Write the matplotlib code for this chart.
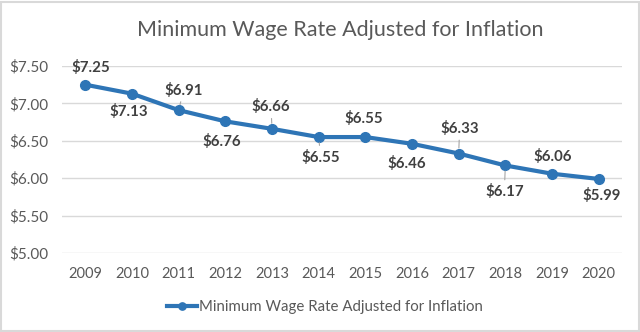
import matplotlib
matplotlib.use("Agg")
import matplotlib.pyplot as plt
from matplotlib.patches import Rectangle

years = ["2009", "2010", "2011", "2012", "2013", "2014", "2015", "2016", "2017", "2018", "2019", "2020"]
wages = [7.25, 7.13, 6.91, 6.76, 6.66, 6.55, 6.55, 6.46, 6.33, 6.17, 6.06, 5.99]
yticks = [5.00, 5.50, 6.00, 6.50, 7.00, 7.50]
series_name = "Minimum Wage Rate Adjusted for Inflation"
title = "Minimum Wage Rate Adjusted for Inflation"

# label offsets in pixels (dx, dy) and whether a leader line is drawn
label_offsets = [(5, 17), (-3, -18), (5, 20), (-4, -20), (-1, 22), (2, -20),
                 (-2, 19), (-5, -20), (1, 25), (-1, -26), (1, 17), (3, -17)]
leaders = [False, False, True, False, True, True, False, False, True, True, False, False]

plt.rcParams['font.family'] = ['Lato', 'DejaVu Sans']
line_color = "#2E75B6"
text_gray = "#595959"

fig = plt.figure(figsize=(6.4, 3.32), dpi=100)
ax = fig.add_axes([62/640, 1-253/332, (622-62)/640, (253-66)/332])

x = list(range(len(years)))
ax.plot(x, wages, color=line_color, lw=3, marker='o', markersize=7,
        label=series_name, zorder=3)

for i, v in enumerate(wages):
    dx, dy = label_offsets[i]
    ap = dict(arrowstyle='-', color='#a6a6a6', lw=0.8, shrinkA=1, shrinkB=4) if leaders[i] else None
    ax.annotate(f"${v:.2f}", xy=(i, v), xytext=(dx, dy), textcoords='offset pixels',
                ha='center', va='center', fontsize=10.8, fontweight='bold',
                color='#404040', arrowprops=ap, zorder=4)

ax.set_xlim(-0.5, 11.5)
ax.set_ylim(5.0, 7.5)
ax.set_yticks(yticks)
ax.set_yticklabels([f"${t:.2f}" for t in yticks])
ax.set_xticks(x)
ax.set_xticklabels(years)
ax.tick_params(axis='both', length=0, colors=text_gray, labelsize=10.5)
ax.tick_params(axis='y', labelsize=11, pad=10)
ax.tick_params(axis='x', pad=10)
ax.grid(axis='y', color='#d9d9d9', lw=1)
ax.set_axisbelow(True)
for s in ax.spines.values():
    s.set_visible(False)

fig.text(340/640, 1-30/332, title, ha='center', va='center', fontsize=15.5, color=text_gray)

leg = fig.legend(loc='center', bbox_to_anchor=(325/640, 1-307/332), frameon=False,
                 fontsize=10.8, handlelength=2.0, handletextpad=0.1, markerscale=0.75)
for t in leg.get_texts():
    t.set_color(text_gray)

fig.patches.append(Rectangle((0.002, 0.002), 0.996, 0.992, transform=fig.transFigure,
                             fill=False, edgecolor='#d9d9d9', lw=1.5))

fig.savefig("out.png", dpi=100, facecolor='white')
